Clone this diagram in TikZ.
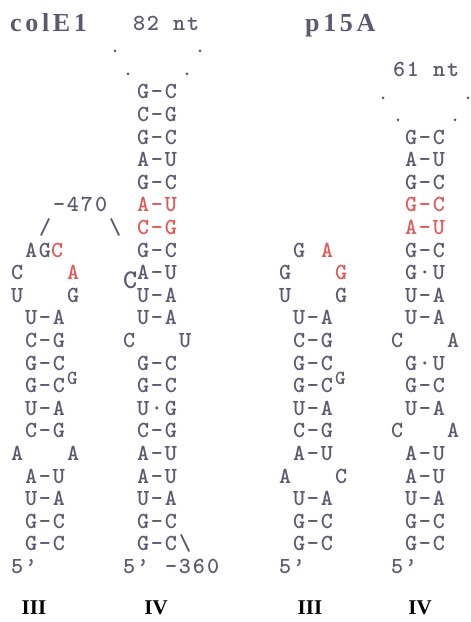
\documentclass[tikz,border=0pt]{standalone}
\usepackage{fontspec}
\newfontfamily\hfont[LetterSpace=14]{Liberation Serif}
\newfontfamily\rfont{Liberation Serif}
\newfontfamily\tfont[LetterSpace=8.4]{lmmonolt10-bold.otf}
\newfontfamily\tfonts{lmmonolt10-bold.otf}
\definecolor{gr}{HTML}{5A5A70}
\definecolor{rd}{HTML}{E05A5A}
\tikzset{
  nt/.style={anchor=base west, inner sep=0pt, outer sep=0pt, text=gr,
    font=\tfont\fontsize{23}{23}\selectfont},
  supg/.style={nt, font=\tfonts\fontsize{20}{20}\selectfont},
  bigc/.style={nt, font=\tfonts\fontsize{27}{27}\selectfont},
  hd/.style={anchor=base west, inner sep=0pt, text=gr,
    font=\hfont\bfseries\fontsize{26}{26}\selectfont},
  rn/.style={anchor=base, inner sep=0pt, text=black,
    font=\rfont\bfseries\fontsize{21}{21}\selectfont},
  dot/.style={fill=gr}
}
\newcommand\bpE[4]{\node[nt] (#1) at ({25+14*(#2)},{523-22.6*(#3)}) {#4};}
\newcommand\bpP[4]{\node[nt] (#1) at ({293+14*(#2)},{523-22.6*(#3)}) {#4};}
\begin{document}
\begin{tikzpicture}[x=1pt,y=1pt]
\useasboundingbox (0,0) rectangle (471,622);
% ---------------- colE1 ----------------
\node[hd] (colE1) at (10,590) {colE1};
\node[nt] (nt82) at (133,591) {82 nt};
\fill[dot] (115,571) circle (1.5) (200,571) circle (1.5) (128,548) circle (1.5) (187,548) circle (1.5);
% stem IV
\bpE{e4r0}{8}{0}{G-C}
\bpE{e4r1}{8}{1}{C-G}
\bpE{e4r2}{8}{2}{G-C}
\bpE{e4r3}{8}{3}{A-U}
\bpE{e4r4}{8}{4}{G-C}
\bpE{e4r5}{8}{5}{\textcolor{rd}{A-U}}
\bpE{e4r6}{8}{6}{\textcolor{rd}{C-G}}
\bpE{e4r7}{8}{7}{G-C}
\bpE{e4r8}{8}{8}{A-U}
\node[bigc] (e4c) at ({25+14*7},{523-22.6*8-9}) {C};
\bpE{e4r9}{8}{9}{U-A}
\bpE{e4r10}{8}{10}{U-A}
\bpE{e4r11a}{7}{11}{C}
\bpE{e4r11b}{11}{11}{U}
\bpE{e4r12}{8}{12}{G-C}
\bpE{e4r13}{8}{13}{G-C}
\bpE{e4r14}{8}{14}{U·G}
\bpE{e4r15}{8}{15}{C-G}
\bpE{e4r16}{8}{16}{A-U}
\bpE{e4r17}{8}{17}{A-U}
\bpE{e4r18}{8}{18}{U-A}
\bpE{e4r19}{8}{19}{G-C}
\bpE{e4r20}{8}{20}{G-C\textbackslash}
\bpE{e4r21a}{7}{21}{5’}
\bpE{e4r21b}{10}{21}{-360}
% stem III
\bpE{e3r5}{2}{5}{-470}
\bpE{e3r6a}{1}{6}{/}
\bpE{e3r6b}{6}{6}{\textbackslash}
\bpE{e3r7}{0}{7}{AG\textcolor{rd}{C}}
\bpE{e3r8a}{-1}{8}{C}
\bpE{e3r8b}{3}{8}{\textcolor{rd}{A}}
\bpE{e3r9a}{-1}{9}{U}
\bpE{e3r9b}{3}{9}{G}
\bpE{e3r10}{0}{10}{U-A}
\bpE{e3r11}{0}{11}{C-G}
\bpE{e3r12}{0}{12}{G-C}
\bpE{e3r13}{0}{13}{G-C}
\node[supg] (e3g) at ({25+14*3},{523-22.6*13+8}) {G};
\bpE{e3r14}{0}{14}{U-A}
\bpE{e3r15}{0}{15}{C-G}
\bpE{e3r16a}{-1}{16}{A}
\bpE{e3r16b}{3}{16}{A}
\bpE{e3r17}{0}{17}{A-U}
\bpE{e3r18}{0}{18}{U-A}
\bpE{e3r19}{0}{19}{G-C}
\bpE{e3r20}{0}{20}{G-C}
\bpE{e3r21}{-1}{21}{5’}
\node[rn] (e3lab) at (34,7) {III};
\node[rn] (e4lab) at (156,7) {IV};
% ---------------- p15A ----------------
\node[hd] (p15A) at (305,590) {p15A};
\node[nt] (nt61) at (393,545) {61 nt};
\fill[dot] (383,524) circle (1.5) (468,524) circle (1.5) (398,502) circle (1.5) (455,502) circle (1.5);
% stem IV
\bpP{p4r2}{8}{2}{G-C}
\bpP{p4r3}{8}{3}{A-U}
\bpP{p4r4}{8}{4}{G-C}
\bpP{p4r5}{8}{5}{\textcolor{rd}{G-C}}
\bpP{p4r6}{8}{6}{\textcolor{rd}{A-U}}
\bpP{p4r7}{8}{7}{G-C}
\bpP{p4r8}{8}{8}{G·U}
\bpP{p4r9}{8}{9}{U-A}
\bpP{p4r10}{8}{10}{U-A}
\bpP{p4r11a}{7}{11}{C}
\bpP{p4r11b}{11}{11}{A}
\bpP{p4r12}{8}{12}{G·U}
\bpP{p4r13}{8}{13}{G-C}
\bpP{p4r14}{8}{14}{U-A}
\bpP{p4r15a}{7}{15}{C}
\bpP{p4r15b}{11}{15}{A}
\bpP{p4r16}{8}{16}{A-U}
\bpP{p4r17}{8}{17}{A-U}
\bpP{p4r18}{8}{18}{U-A}
\bpP{p4r19}{8}{19}{G-C}
\bpP{p4r20}{8}{20}{G-C}
\bpP{p4r21}{7}{21}{5’}
% stem III
\bpP{p3r7a}{0}{7}{G}
\bpP{p3r7b}{2}{7}{\textcolor{rd}{A}}
\bpP{p3r8a}{-1}{8}{G}
\bpP{p3r8b}{3}{8}{\textcolor{rd}{G}}
\bpP{p3r9a}{-1}{9}{U}
\bpP{p3r9b}{3}{9}{G}
\bpP{p3r10}{0}{10}{U-A}
\bpP{p3r11}{0}{11}{C-G}
\bpP{p3r12}{0}{12}{G-C}
\bpP{p3r13}{0}{13}{G-C}
\node[supg] (p3g) at ({293+14*3},{523-22.6*13+8}) {G};
\bpP{p3r14}{0}{14}{U-A}
\bpP{p3r15}{0}{15}{C-G}
\bpP{p3r16}{0}{16}{A-U}
\bpP{p3r17a}{-1}{17}{A}
\bpP{p3r17b}{3}{17}{C}
\bpP{p3r18}{0}{18}{U-A}
\bpP{p3r19}{0}{19}{G-C}
\bpP{p3r20}{0}{20}{G-C}
\bpP{p3r21}{-1}{21}{5’}
\node[rn] (p3lab) at (310,7) {III};
\node[rn] (p4lab) at (420,7) {IV};
\end{tikzpicture}
\end{document}
